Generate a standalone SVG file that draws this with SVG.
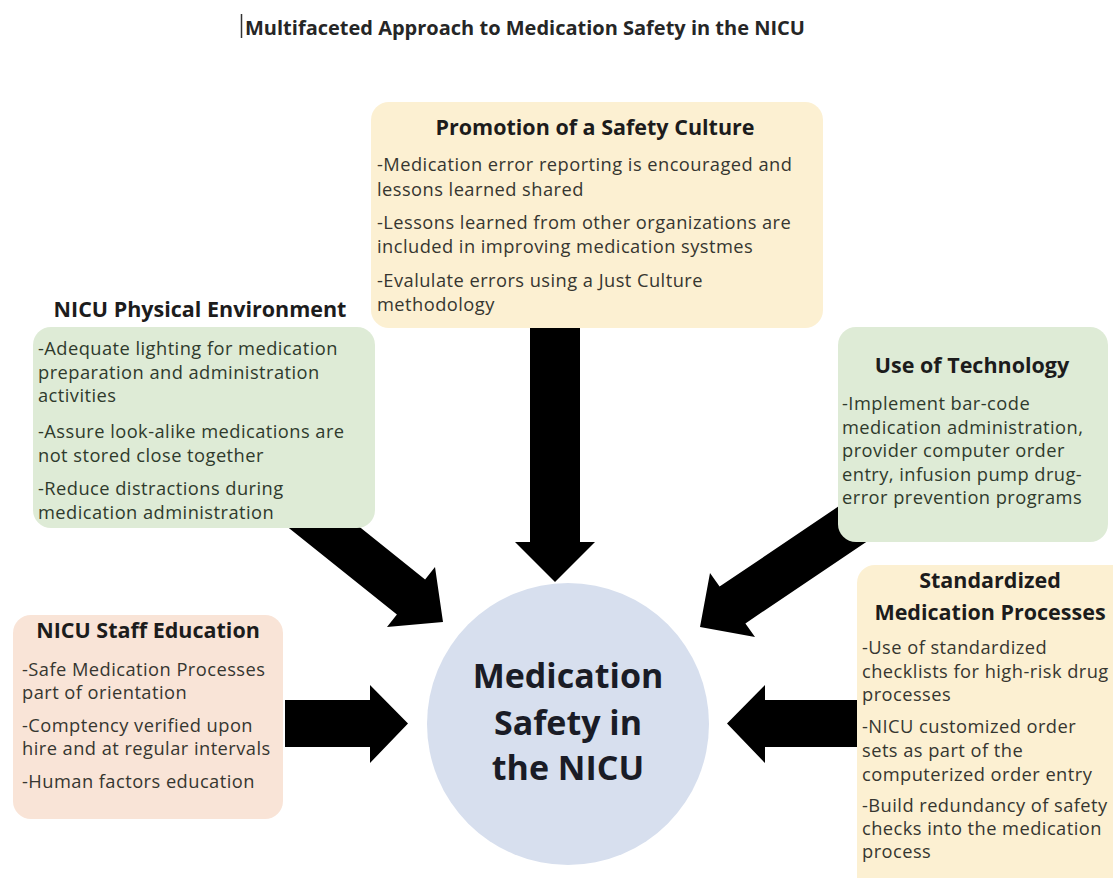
<svg xmlns="http://www.w3.org/2000/svg" width="1113" height="878" viewBox="0 0 1113 878">
  <style>
    .bg { fill: #ffffff; }
    .card-yellow { fill: #fcf0d2; }
    .card-green { fill: #deebd6; }
    .card-salmon { fill: #f9e4d7; }
    .hub { fill: #d7dfee; }
    .arrow { fill: #000000; }
    .page-title { font-family: "Open Sans", Lato, sans-serif; font-weight: 700; font-size: 20px; fill: #262626; }
    .head { font-family: "Open Sans", Lato, sans-serif; font-weight: 700; font-size: 21.5px; fill: #1c1c1c; text-anchor: middle; }
    .body { font-family: "Open Sans", Lato, sans-serif; font-size: 18.3px; letter-spacing: 0.45px; fill: #363630; }
    .body-green { fill: #2f3a2c; }
    .hub-text { font-family: "Open Sans", Lato, sans-serif; font-weight: 700; font-size: 34px; fill: #1a1c26; text-anchor: middle; }
  </style>

  <rect class="bg" x="0" y="0" width="1113" height="878"/>

  <!-- page heading with the editing caret in front of it -->
  <line x1="241.5" y1="14" x2="241.5" y2="38" stroke="#333333" stroke-width="1.5"/>
  <text class="page-title" x="245" y="35">Multifaceted Approach to Medication Safety in the NICU</text>

  <!-- block arrows pointing at the hub; drawn first so the cards overlap their tails -->
  <g id="connectors">
    <polygon class="arrow" points="530,315 580,315 580,542 595,542 555,582 515,542 530,542"/>
    <polygon class="arrow" points="272.6,515 344.7,515 425.1,579.4 435,567 443,622 387,627 396.9,614.6"/>
    <polygon class="arrow" points="844.1,502.6 869.9,539.4 745.4,623.4 755,637 700,627 710,573 719.6,586.6"/>
    <polygon class="arrow" points="285,700 370,700 370,685 408,723.5 370,763 370,747 285,747"/>
    <polygon class="arrow" points="870,700 765,700 765,685 727,723.5 765,763 765,747 870,747"/>
  </g>

  <g id="safety-culture">
    <rect class="card-yellow" x="371" y="102" width="452" height="226" rx="18"/>
    <text class="head" x="595" y="135">Promotion of a Safety Culture</text>
    <text class="body" x="377" y="171">-Medication error reporting is encouraged and</text>
    <text class="body" x="377" y="195.5">lessons learned shared</text>
    <text class="body" x="377" y="229">-Lessons learned from other organizations are</text>
    <text class="body" x="377" y="253">included in improving medication systmes</text>
    <text class="body" x="377" y="287">-Evalulate errors using a Just Culture</text>
    <text class="body" x="377" y="310.5">methodology</text>
  </g>

  <g id="physical-environment">
    <text class="head" x="200" y="317">NICU Physical Environment</text>
    <rect class="card-green" x="33" y="327" width="342" height="201" rx="18"/>
    <text class="body body-green" x="38" y="355">-Adequate lighting for medication</text>
    <text class="body body-green" x="38" y="378.5">preparation and administration</text>
    <text class="body body-green" x="38" y="402">activities</text>
    <text class="body body-green" x="38" y="438">-Assure look-alike medications are</text>
    <text class="body body-green" x="38" y="461.5">not stored close together</text>
    <text class="body body-green" x="38" y="495">-Reduce distractions during</text>
    <text class="body body-green" x="38" y="518.5">medication administration</text>
  </g>

  <g id="technology">
    <rect class="card-green" x="838" y="327" width="270" height="215" rx="18"/>
    <text class="head" x="972" y="373">Use of Technology</text>
    <text class="body body-green" x="842" y="410">-Implement bar-code</text>
    <text class="body body-green" x="842" y="433.5">medication administration,</text>
    <text class="body body-green" x="842" y="457">provider computer order</text>
    <text class="body body-green" x="842" y="480.5">entry, infusion pump drug-</text>
    <text class="body body-green" x="842" y="504">error prevention programs</text>
  </g>

  <g id="staff-education">
    <rect class="card-salmon" x="13" y="615" width="270" height="204" rx="18"/>
    <text class="head" x="148" y="638">NICU Staff Education</text>
    <text class="body" x="22" y="676">-Safe Medication Processes</text>
    <text class="body" x="22" y="699">part of orientation</text>
    <text class="body" x="22" y="732">-Comptency verified upon</text>
    <text class="body" x="22" y="755">hire and at regular intervals</text>
    <text class="body" x="22" y="788">-Human factors education</text>
  </g>

  <g id="standardized-processes">
    <rect class="card-yellow" x="857" y="565" width="275" height="330" rx="18"/>
    <text class="head" x="990" y="588">Standardized</text>
    <text class="head" x="990" y="620">Medication Processes</text>
    <text class="body" x="862" y="654">-Use of standardized</text>
    <text class="body" x="862" y="677.5">checklists for high-risk drug</text>
    <text class="body" x="862" y="701">processes</text>
    <text class="body" x="862" y="733">-NICU customized order</text>
    <text class="body" x="862" y="757">sets as part of the</text>
    <text class="body" x="862" y="780.5">computerized order entry</text>
    <text class="body" x="862" y="812">-Build redundancy of safety</text>
    <text class="body" x="862" y="835">checks into the medication</text>
    <text class="body" x="862" y="858">process</text>
  </g>

  <g id="hub">
    <circle class="hub" cx="568" cy="724" r="141"/>
    <text class="hub-text" x="568" y="688">Medication</text>
    <text class="hub-text" x="568" y="735">Safety in</text>
    <text class="hub-text" x="568" y="780">the NICU</text>
  </g>
</svg>
